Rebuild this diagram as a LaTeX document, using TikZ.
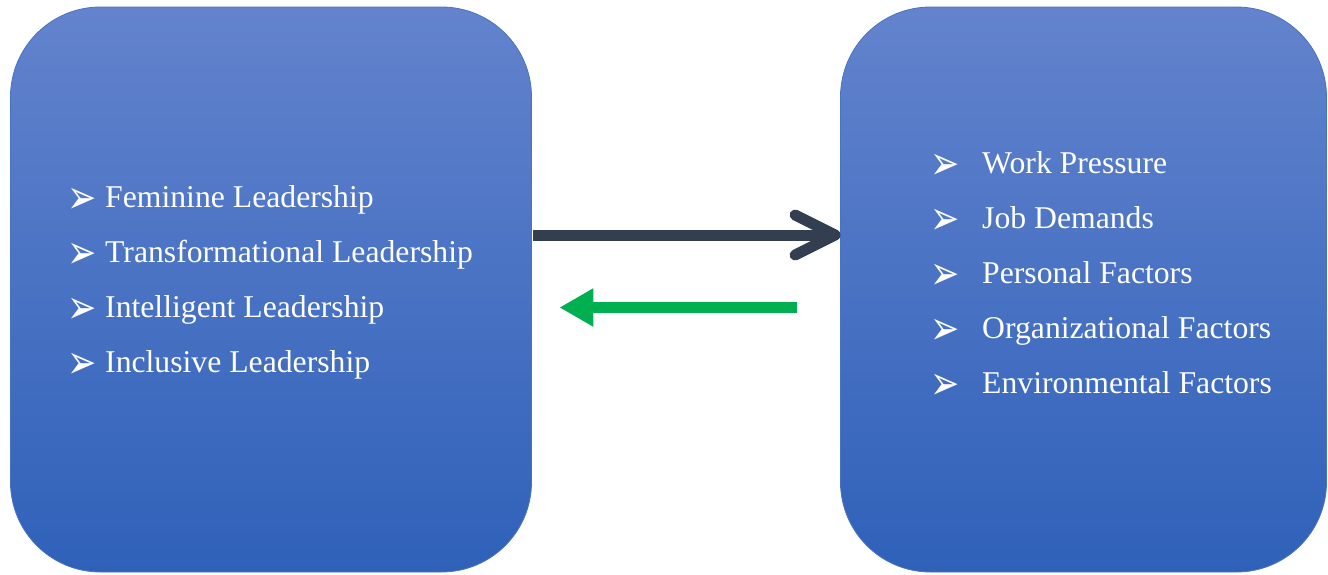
\documentclass[tikz,border=0pt]{standalone}
\usepackage{fontspec}
\setmainfont{Liberation Serif}
\newfontfamily\symfont{DejaVu Sans}
\usetikzlibrary{arrows.meta,calc}
\definecolor{boxtop}{HTML}{6383CD}
\definecolor{boxbot}{HTML}{2F61B9}
\definecolor{boxline}{HTML}{4A72C2}
\definecolor{darkarrow}{HTML}{333F50}
\definecolor{greenarrow}{HTML}{00B050}
\tikzset{
  panel/.style={rectangle, rounded corners=90pt, top color=boxtop, bottom color=boxbot,
    draw=boxline, line width=0.8pt, inner sep=0pt},
  item/.style={anchor=base west, inner sep=0pt, text=white,
    font=\fontsize{31.7}{38}\selectfont},
  bul/.style={anchor=center, inner sep=0pt, text=white,
    font=\symfont\fontsize{35}{40}\selectfont},
}
\newcommand{\arrbullet}{\scalebox{1}[1.35]{➢}}
\begin{document}
\begin{tikzpicture}[x=1pt,y=-1pt]
\useasboundingbox (0,0) rectangle (1328,574);
% the two panels
\node[panel, minimum width=521pt, minimum height=565pt] (L) at (271,289.5) {};
\node[panel, minimum width=486pt, minimum height=565pt] (R) at (1083.5,289.5) {};
% left list
\foreach \t [count=\i] in {Feminine Leadership, Transformational Leadership,
    Intelligent Leadership, Inclusive Leadership} {
  \node[bul] (lb\i) at (82.5,{201+55*(\i-1)}) {\arrbullet};
  \node[item] (lt\i) at (105,{207+55*(\i-1)}) {\t};
}
% right list
\foreach \t [count=\i] in {Work Pressure, Job Demands, Personal Factors,
    Organizational Factors, Environmental Factors} {
  \node[bul] (rb\i) at (945.5,{167+55*(\i-1)}) {\arrbullet};
  \node[item] (rt\i) at (982,{173+55*(\i-1)}) {\t};
}
% dark arrow with open chevron head
\coordinate (a0) at ($(L.east)+(1.5,-54.5)$);
\coordinate (a1) at ($(R.west)+(-5,-54.5)$);
\draw[darkarrow, line width=11pt] (a0) -- (a1);
\draw[darkarrow, line width=11pt, line cap=round, line join=round]
  ($(a1)+(-40,-20)$) -- (a1) -- ($(a1)+(-40,20)$);
% green return arrow
\draw[greenarrow, line width=11pt, -{Triangle[length=34pt,width=36pt]}]
  ($(R.west)+(-43,18)$) -- ($(L.east)+(27.5,18)$);
\end{tikzpicture}
\end{document}
